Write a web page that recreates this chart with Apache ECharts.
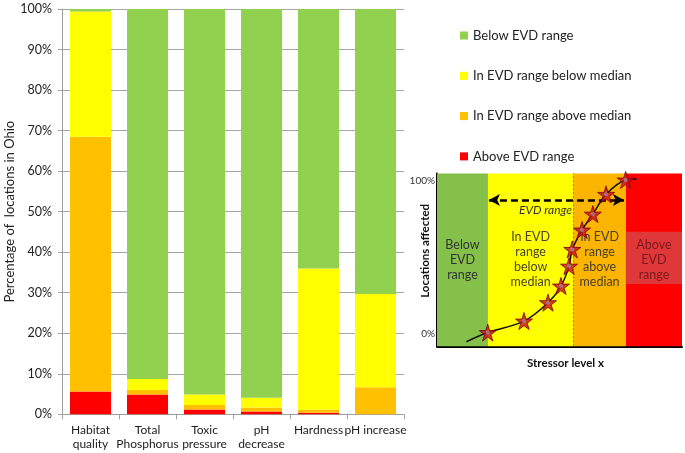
<!DOCTYPE html>
<html><head><meta charset="utf-8">
<script src="https://cdn.jsdelivr.net/npm/echarts@6/dist/echarts.min.js"></script>
<style>html,body{margin:0;padding:0;background:#fff}#c{width:685px;height:453px}</style>
</head><body><div id="c"></div>
<script>
// Main chart data
const categories = ['Habitat\nquality','Total\nPhosphorus','Toxic\npressure','pH\ndecrease','Hardness','pH increase'];
const aboveEVD   = [5.6, 4.9, 1.2, 0.7, 0.4, 0];
const inAboveMed = [62.9, 1.1, 1.1, 1.0, 0.7, 6.7];
const inBelowMed = [30.9, 2.7, 2.6, 2.4, 34.9, 23.0];
const belowEVD   = [0.6, 91.3, 95.1, 95.9, 64.0, 70.3];
const seriesNames = ['Below EVD range','In EVD range below median','In EVD range above median','Above EVD range'];
const yTicks = [0,10,20,30,40,50,60,70,80,90,100];

// Inset diagram data (conceptual curve)
const curveX = [12, 20.7, 35.5, 45.3, 50.6, 53.9, 55.2, 59.2, 63.6, 69.0, 77.0, 81.5];
const curveY = [-5, 1, 8.5, 20.5, 31.4, 44.4, 55.3, 68.0, 78.4, 91.3, 100.7, 101.3];
const starX = [20.7, 35.5, 45.3, 50.6, 53.9, 55.2, 59.2, 63.6, 69.0, 77.0];
const starY = [1, 8.5, 20.5, 31.4, 44.4, 55.3, 68.0, 78.4, 91.3, 100.7];
const bandEdges = [0, 20.8, 55.6, 77.1, 100];
const bandLabels = ['Below\nEVD\nrange','In EVD\nrange\nbelow\nmedian','In EVD\nrange\nabove\nmedian','Above\nEVD\nrange'];
const evdRange = [21.2, 76.3];
const evdArrowY = 87.6;
const insetYLabels = [0, 100];

const colors = {green:'#92d050', yellow:'#ffff00', orange:'#ffc000', red:'#ff0000'};
const bandColors = ['#84c04a', '#ffff00', '#fbb400', '#ff0000'];
const bandTextColors = ['#333333', '#4a4530', '#4a4030', '#7a1a1a'];
const FONT = 'Lato, "Open Sans", sans-serif';

const chart = echarts.init(document.getElementById('c'), null, {renderer:'canvas'});
const starPath = 'path://M50,0 L61,35 L98,35 L68,57 L79,91 L50,70 L21,91 L32,57 L2,35 L39,35 Z';

function bar(name, data, color){
  return {name, type:'bar', stack:'s', data, barCategoryGap:'28%', xAxisIndex:0, yAxisIndex:0,
    itemStyle:{color}, emphasis:{disabled:true}};
}

const areaData = [];
for (let i=0;i<4;i++){
  areaData.push([{xAxis:bandEdges[i], yAxis:-8, name:bandLabels[i], itemStyle:{color:bandColors[i]},
    label:{show:true, position:'inside', color:bandTextColors[i], fontSize:12.5, lineHeight:15, fontFamily:FONT}},
    {xAxis:bandEdges[i+1], yAxis:105}]);
}
areaData.push([{xAxis:bandEdges[3], yAxis:32.7, itemStyle:{color:'#e0383a'}, label:{show:false}},{xAxis:bandEdges[4], yAxis:66.9}]);

const option = {
  animation:false,
  textStyle:{fontFamily:FONT},
  legend:{
    orient:'vertical', left:455, top:24, itemGap:27.3, itemWidth:8, itemHeight:8, icon:'rect',
    data:seriesNames, textStyle:{fontSize:13, color:'#222', fontFamily:FONT}, selectedMode:false
  },
  grid:[
    {left:62, right:281, top:9, bottom:38.7},
    {left:437, top:173.4, width:245, height:172.9}
  ],
  xAxis:[
    {type:'category', gridIndex:0, data:categories,
      axisLine:{lineStyle:{color:'#a0a0a0'}}, axisTick:{show:true, length:5, lineStyle:{color:'#a0a0a0'}},
      axisLabel:{color:'#222', fontSize:12, lineHeight:14, interval:0, margin:9}},
    {type:'value', gridIndex:1, min:0, max:100, splitLine:{show:false}, axisTick:{show:false}, axisLabel:{show:false},
      axisLine:{show:true, onZero:false, lineStyle:{color:'#000', width:2}},
      name:'Stressor level x', nameLocation:'middle', nameGap:11, nameMoveOverlap:false,
      nameTextStyle:{fontWeight:'bold', fontSize:11.5, color:'#111', padding:[0,0,0,12]}}
  ],
  yAxis:[
    {type:'value', gridIndex:0, min:0, max:100, interval:10,
      axisLabel:{formatter:'{value}%', color:'#222', fontSize:12.5, margin:10},
      axisLine:{show:true, lineStyle:{color:'#a0a0a0'}}, axisTick:{show:true, length:4, lineStyle:{color:'#a0a0a0'}},
      splitLine:{lineStyle:{color:'#a6a6a6'}},
      name:'Percentage of  locations in Ohio', nameLocation:'middle', nameGap:44,
      nameTextStyle:{fontSize:13, color:'#222'}},
    {type:'value', gridIndex:1, min:-8, max:105, splitLine:{show:false}, axisTick:{show:false},
      axisLine:{show:true, onZero:false, lineStyle:{color:'#000', width:2}},
      axisLabel:{customValues:insetYLabels, formatter:'{value}%', color:'#333', fontSize:10, margin:2},
      name:'Locations affected', nameLocation:'middle', nameGap:6, nameMoveOverlap:false,
      nameTextStyle:{fontWeight:'bold', fontSize:11.5, color:'#111', padding:[0,0,0,18]}}
  ],
  series:[
    bar(seriesNames[3], aboveEVD, colors.red),
    bar(seriesNames[2], inAboveMed, colors.orange),
    bar(seriesNames[1], inBelowMed, colors.yellow),
    bar(seriesNames[0], belowEVD, colors.green),
    {type:'line', xAxisIndex:1, yAxisIndex:1, data:[], z:1, silent:true,
      markArea:{silent:true, data:areaData},
      markLine:{silent:true, symbol:['none','none'], animation:false,
        data:[
          [{coord:[bandEdges[2],-8], lineStyle:{color:'#777', type:[2,2], width:1}, label:{show:false}},{coord:[bandEdges[2],105]}]
        ]}
    },
    {type:'line', xAxisIndex:1, yAxisIndex:1, data:[], z:3, silent:true,
      markLine:{silent:true, symbol:['arrow','arrow'], symbolSize:[9,11], animation:false,
        data:[[{coord:[evdRange[0],evdArrowY], lineStyle:{color:'#000', type:[7,4], width:2.5},
          label:{show:true, formatter:'EVD range', position:'insideMiddleBottom', fontStyle:'italic', color:'#333', fontSize:12, distance:[0,4], padding:[0,22,0,0]}},
          {coord:[evdRange[1],evdArrowY]}]]}
    },
    {type:'line', xAxisIndex:1, yAxisIndex:1, z:4, silent:true, smooth:0.35, showSymbol:false,
      data:curveX.map((x,i)=>[x,curveY[i]]), lineStyle:{color:'#111', width:1.5}},
    {type:'scatter', xAxisIndex:1, yAxisIndex:1, z:5, silent:true, symbol:starPath, symbolSize:17,
      data:starX.map((x,i)=>[x,starY[i]]), itemStyle:{color:'#c8101e', borderColor:'#7a0010', borderWidth:1}},
    {type:'scatter', xAxisIndex:1, yAxisIndex:1, z:6, silent:true, symbol:'circle', symbolSize:4,
      data:starX.map((x,i)=>[x,starY[i]]), itemStyle:{color:'#a08a9a'}}
  ]
};
chart.setOption(option);
</script>
</body></html>
